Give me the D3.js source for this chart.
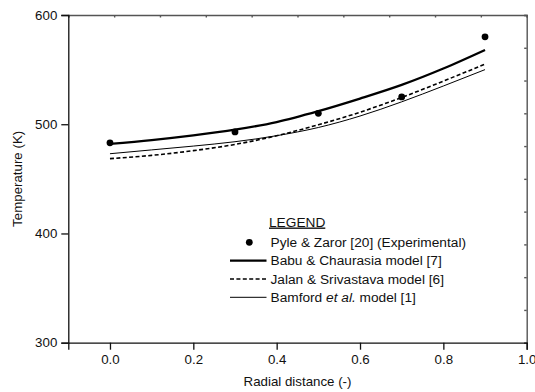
<!DOCTYPE html>
<html>
<head>
<meta charset="utf-8">
<script src="https://cdn.jsdelivr.net/npm/d3@7"></script>
<style>
  body { margin: 0; background: #fff; }
  svg { display: block; font-family: "Liberation Sans", Arial, sans-serif; }
</style>
</head>
<body>
<div id="chart"></div>
<script>
// ---- data ----
const radialGrid = [0.0, 0.1, 0.2, 0.3, 0.4, 0.5, 0.6, 0.7, 0.8, 0.9];
const babuModel = [482, 485.5, 489.8, 495, 502, 512, 523.5, 536, 551, 568];
const jalanModel = [468.5, 471.5, 475.8, 481.5, 489.5, 499.5, 511, 524.5, 539.5, 555];
const bamfordModel = [473, 476.5, 480, 484, 489.5, 497, 507.5, 520.5, 535, 550];

const expRadial = [0.0, 0.3, 0.5, 0.7, 0.9];
const expTemp = [483, 493, 510, 525, 580];

const xTicks = [0.0, 0.2, 0.4, 0.6, 0.8, 1.0];
const yTicks = [300, 400, 500, 600];

const width = 535, height = 392;
const plotLeft = 68.3, plotRight = 526.7, plotTop = 15, plotBottom = 342.7;

const svg = d3.select("#chart").append("svg")
    .attr("width", width)
    .attr("height", height);

const x = d3.scaleLinear().domain([-0.1, 1.0]).range([plotLeft, plotRight]);
const y = d3.scaleLinear().domain([300, 600]).range([plotBottom, plotTop]);

// top / right frame with small inward ticks (10 divisions each)
const frameX = d3.scaleLinear().domain([0, 10]).range([plotLeft, plotRight]);
const frameY = d3.scaleLinear().domain([0, 10]).range([plotBottom, plotTop]);

svg.append("g")
    .attr("transform", `translate(0,${plotTop})`)
    .call(d3.axisTop(frameX).tickValues(d3.range(0, 11)).tickSize(-2.5).tickFormat(""))
    .call(g => g.selectAll("path,line").attr("stroke", "#555").attr("stroke-width", 1.4));

svg.append("g")
    .attr("transform", `translate(${plotRight},0)`)
    .call(d3.axisRight(frameY).tickValues(d3.range(0, 11)).tickSize(-2.5).tickFormat(""))
    .call(g => g.selectAll("path,line").attr("stroke", "#555").attr("stroke-width", 1.4));

// bottom axis
const xAxis = svg.append("g")
    .attr("transform", `translate(0,${plotBottom})`)
    .call(d3.axisBottom(x).tickValues(xTicks).tickSizeOuter(0).tickSize(7).tickPadding(5)
        .tickFormat(d3.format(".1f")));
xAxis.selectAll("path,line").attr("stroke", "#111").attr("stroke-width", 1.3);
xAxis.selectAll("text").attr("font-size", 13.3).attr("fill", "#111")
    .attr("font-family", "Liberation Sans, Arial, sans-serif");

// left axis
const yAxis = svg.append("g")
    .attr("transform", `translate(${plotLeft},0)`)
    .call(d3.axisLeft(y).tickValues(yTicks).tickSizeOuter(0).tickSize(7).tickPadding(4));
yAxis.selectAll("path,line").attr("stroke", "#111").attr("stroke-width", 1.3);
yAxis.selectAll("text").attr("font-size", 13.3).attr("fill", "#111")
    .attr("font-family", "Liberation Sans, Arial, sans-serif");

// axis titles
svg.append("text")
    .attr("x", (plotLeft + plotRight) / 2)
    .attr("y", 386)
    .attr("text-anchor", "middle")
    .attr("font-size", 13.3)
    .attr("fill", "#111")
    .text("Radial distance (-)");

svg.append("text")
    .attr("transform", `translate(22,${(plotTop + plotBottom) / 2}) rotate(-90)`)
    .attr("text-anchor", "middle")
    .attr("font-size", 13.3)
    .attr("fill", "#111")
    .text("Temperature (K)");

// model curves
const series = [
    { name: "Babu & Chaurasia model [7]", values: babuModel, width: 2.3, dash: null },
    { name: "Jalan & Srivastava model [6]", values: jalanModel, width: 1.6, dash: "4,2.4" },
    { name: "Bamford model [1]", values: bamfordModel, width: 1, dash: null }
];

const line = d3.line()
    .x(d => x(d[0]))
    .y(d => y(d[1]))
    .curve(d3.curveMonotoneX);

series.forEach(s => {
    svg.append("path")
        .datum(radialGrid.map((r, i) => [r, s.values[i]]))
        .attr("d", line)
        .attr("fill", "none")
        .attr("stroke", "#000")
        .attr("stroke-width", s.width)
        .attr("stroke-dasharray", s.dash);
});

// experimental points
svg.selectAll(".exp")
    .data(expRadial.map((r, i) => [r, expTemp[i]]))
    .enter()
    .append("circle")
    .attr("class", "exp")
    .attr("cx", d => x(d[0]))
    .attr("cy", d => y(d[1]))
    .attr("r", 3.4)
    .attr("fill", "#000");

// ---- legend ----
const legend = svg.append("g");
const lx0 = 230, lx1 = 266.5, tx = 270.5;
const rowY = [242.3, 260.7, 279, 297.3];
const legendFont = 13.7;

legend.append("text")
    .attr("x", 269)
    .attr("y", 226.5)
    .attr("font-size", legendFont)
    .attr("fill", "#111")
    .attr("text-decoration", "underline")
    .text("LEGEND");

legend.append("circle")
    .attr("cx", 249.3).attr("cy", rowY[0]).attr("r", 3.4).attr("fill", "#000");
legend.append("text")
    .attr("x", tx).attr("y", rowY[0]).attr("dy", "0.35em")
    .attr("font-size", legendFont).attr("fill", "#111")
    .text("Pyle & Zaror [20] (Experimental)");

series.forEach((s, i) => {
    const yy = rowY[i + 1];
    legend.append("line")
        .attr("x1", lx0).attr("x2", lx1)
        .attr("y1", yy).attr("y2", yy)
        .attr("stroke", "#000")
        .attr("stroke-width", s.width)
        .attr("stroke-dasharray", s.dash);
    const t = legend.append("text")
        .attr("x", tx).attr("y", yy).attr("dy", "0.35em")
        .attr("font-size", legendFont).attr("fill", "#111");
    if (i === 2) {
        t.append("tspan").text("Bamford ");
        t.append("tspan").attr("font-style", "italic").text("et al.");
        t.append("tspan").text(" model [1]");
    } else {
        t.text(s.name);
    }
});
</script>
</body>
</html>
